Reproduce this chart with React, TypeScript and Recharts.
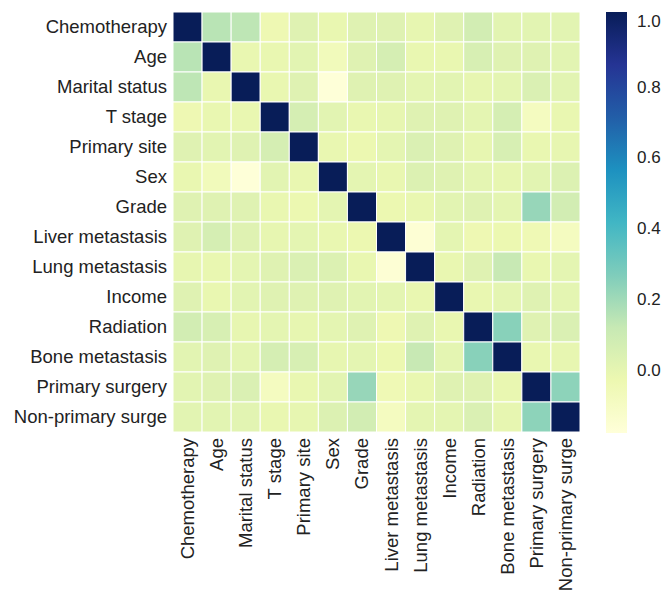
import React from "react";
import {
  ScatterChart,
  Scatter,
  XAxis,
  YAxis,
  BarChart,
  Bar,
} from "recharts";

// the chart fills the window exactly: no body margin, no scrollbars
document.documentElement.style.overflow = "hidden";
document.body.style.overflow = "hidden";
document.body.style.margin = "0";

const labels = [
  "Chemotherapy",
  "Age",
  "Marital status",
  "T stage",
  "Primary site",
  "Sex",
  "Grade",
  "Liver metastasis",
  "Lung metastasis",
  "Income",
  "Radiation",
  "Bone metastasis",
  "Primary surgery",
  "Non-primary surge",
];

// correlation matrix, one row per variable
const chemotherapy = [1, 0.15, 0.14, -0.03, 0.03, -0.01, 0.03, 0.03, 0.0, 0.03, 0.08, 0.02, 0.02, 0.02];
const age = [0.15, 1, -0.01, -0.01, 0.02, -0.06, 0.03, 0.07, -0.01, -0.01, 0.06, 0.03, 0.03, 0.02];
const marital = [0.14, -0.01, 1, -0.01, 0.03, -0.165, 0.03, 0.03, 0.01, 0.02, 0.0, 0.01, 0.05, 0.02];
const tStage = [-0.03, -0.01, -0.01, 1, 0.07, 0.02, -0.01, 0.0, 0.03, 0.03, 0.01, 0.07, -0.08, -0.01];
const primarySite = [0.03, 0.02, 0.03, 0.07, 1, -0.01, -0.02, 0.01, 0.05, 0.03, 0.0, 0.06, -0.01, 0.0];
const sex = [-0.01, -0.06, -0.165, 0.02, -0.01, 1, 0.01, -0.01, 0.04, 0.03, 0.01, 0.0, 0.02, 0.04];
const grade = [0.03, 0.03, 0.03, -0.01, -0.02, 0.01, 1, -0.02, -0.01, 0.02, 0.03, 0.01, 0.22, 0.08];
const liver = [0.03, 0.07, 0.03, 0.0, 0.01, -0.01, -0.02, 1, -0.15, 0.01, -0.03, -0.02, -0.04, -0.08];
const lung = [0.0, -0.01, 0.01, 0.03, 0.05, 0.04, -0.01, -0.15, 1, -0.01, 0.03, 0.12, -0.01, 0.01];
const income = [0.03, -0.01, 0.02, 0.03, 0.03, 0.03, 0.02, 0.01, -0.01, 1, -0.01, 0.01, 0.03, 0.01];
const radiation = [0.08, 0.06, 0.0, 0.01, 0.0, 0.01, 0.03, -0.03, 0.03, -0.01, 1, 0.25, 0.03, 0.05];
const bone = [0.02, 0.03, 0.01, 0.07, 0.06, 0.0, 0.01, -0.02, 0.12, 0.01, 0.25, 1, -0.01, 0.0];
const primarySurgery = [0.02, 0.03, 0.05, -0.08, -0.01, 0.02, 0.22, -0.04, -0.01, 0.03, 0.03, -0.01, 1, 0.24];
const nonPrimary = [0.02, 0.02, 0.02, -0.01, 0.0, 0.04, 0.08, -0.08, 0.01, 0.01, 0.05, 0.0, 0.24, 1];

const rows = [
  chemotherapy, age, marital, tStage, primarySite, sex, grade,
  liver, lung, income, radiation, bone, primarySurgery, nonPrimary,
];

const colorbarTicks = [0, 0.2, 0.4, 0.6, 0.8, 1.0];

const VMIN = -0.17;
const VMAX = 1.0;

// matplotlib YlGnBu
const YLGNBU = ["#ffffd9", "#edf8b1", "#c7e9b4", "#7fcdbb", "#41b6c4", "#1d91c0", "#225ea8", "#253494", "#081d58"];

function hexToRgb(h: string) {
  return [1, 3, 5].map((i) => parseInt(h.slice(i, i + 2), 16));
}

function ylgnbu(t: number) {
  t = Math.max(0, Math.min(1, t));
  const pos = t * (YLGNBU.length - 1);
  const i = Math.min(Math.floor(pos), YLGNBU.length - 2);
  const f = pos - i;
  const a = hexToRgb(YLGNBU[i]);
  const b = hexToRgb(YLGNBU[i + 1]);
  const c = a.map((v, k) => Math.round(v + (b[k] - v) * f));
  return `rgb(${c[0]},${c[1]},${c[2]})`;
}

const colorFor = (v: number) => ylgnbu((v - VMIN) / (VMAX - VMIN));

const cells = rows.flatMap((row, r) =>
  row.map((v, c) => ({ x: c + 0.5, y: r + 0.5, v }))
);

const n = labels.length;
const centers = labels.map((_, i) => i + 0.5);

const W = 662;
const H = 592;
const M = { top: 12, right: 82, left: 0, bottom: 0 };
const Y_W = 173;
const X_H = 160;
const cellW = (W - M.right - M.left - Y_W) / n;
const cellH = (H - M.top - M.bottom - X_H) / n;

const FONT = "'Liberation Sans', Arial, sans-serif";
const TEXT = "#222";

function HeatCell(props: any) {
  const { cx, cy, payload } = props;
  return (
    <rect
      x={cx - cellW / 2}
      y={cy - cellH / 2}
      width={cellW}
      height={cellH}
      fill={colorFor(payload.v)}
      stroke="#ffffff"
      strokeWidth={1}
    />
  );
}

function YTick(props: any) {
  const { x, y, payload } = props;
  return (
    <text x={x} y={y} dy="0.35em" textAnchor="end" fontSize={18.5} fontFamily={FONT} fill={TEXT}>
      {labels[Math.floor(payload.value)]}
    </text>
  );
}

function XTick(props: any) {
  const { x, y, payload } = props;
  return (
    <text
      x={x}
      y={y}
      dy="0.35em"
      textAnchor="end"
      transform={`rotate(-90, ${x}, ${y})`}
      fontSize={18.5}
      fontFamily={FONT}
      fill={TEXT}
    >
      {labels[Math.floor(payload.value)]}
    </text>
  );
}

function CbTick(props: any) {
  const { x, y, payload } = props;
  return (
    <text x={x} y={y} dy="0.35em" textAnchor="start" fontSize={17} fontFamily={FONT} fill={TEXT}>
      {payload.value.toFixed(1)}
    </text>
  );
}

const cbData = [{ name: "cb", range: [-0.178, 1.011] }];

export default function App() {
  return (
    <div style={{ position: "relative", width: W, height: H, overflow: "visible" }}>
      <ScatterChart width={W} height={H} margin={M}>
        <XAxis
          type="number"
          dataKey="x"
          domain={[0, n]}
          ticks={centers}
          interval={0}
          height={X_H}
          axisLine={false}
          tickLine={false}
          tickSize={4}
          tickMargin={2}
          tick={<XTick />}
        />
        <YAxis
          type="number"
          dataKey="y"
          domain={[0, n]}
          reversed
          ticks={centers}
          interval={0}
          width={Y_W}
          axisLine={false}
          tickLine={false}
          tickSize={4}
          tickMargin={2}
          tick={<YTick />}
        />
        <Scatter data={cells} shape={<HeatCell />} isAnimationActive={false} />
      </ScatterChart>
      <div style={{ position: "absolute", left: 606, top: 12 }}>
        <BarChart
          width={56}
          height={421}
          data={cbData}
          margin={{ top: 0, right: 0, left: 0, bottom: 0 }}
          barCategoryGap={0}
        >
          <defs>
            <linearGradient id="cbGrad" x1="0" y1="0" x2="0" y2="1">
              {YLGNBU.slice()
                .reverse()
                .map((c, i) => (
                  <stop key={i} offset={i / (YLGNBU.length - 1)} stopColor={c} />
                ))}
            </linearGradient>
          </defs>
          <XAxis dataKey="name" hide />
          <YAxis
            orientation="right"
            type="number"
            domain={[-0.178, 1.011]}
            ticks={colorbarTicks}
            width={35}
            axisLine={false}
            tickLine={false}
            tickSize={4}
            tickMargin={6}
            tick={<CbTick />}
          />
          <Bar dataKey="range" fill="url(#cbGrad)" isAnimationActive={false} />
        </BarChart>
      </div>
    </div>
  );
}
